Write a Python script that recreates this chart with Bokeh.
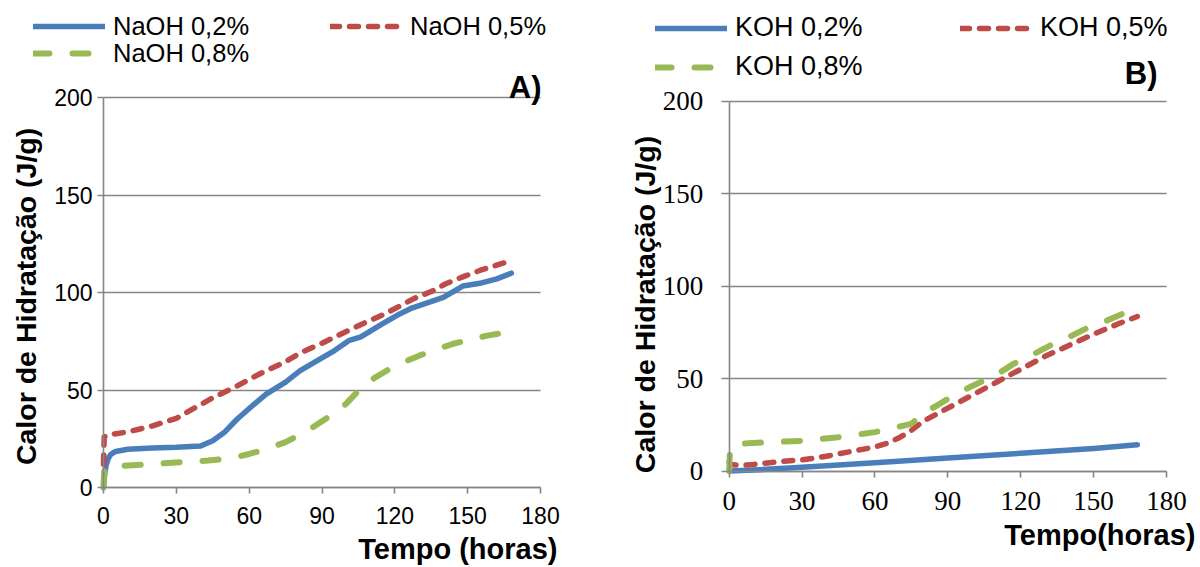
from bokeh.plotting import figure
from bokeh.layouts import row
from bokeh.models import Legend, LegendItem, Label, FixedTicker, Range1d
from bokeh.embed import file_html
from bokeh.resources import INLINE

# ---------------- Panel A (NaOH) ----------------
t_naoh_02 = [0, 0.5, 1, 2, 3, 5, 10, 20, 30, 40, 45, 50, 55, 60, 67, 75, 81, 90, 95, 101, 106, 115, 122, 127, 130, 140, 148, 155, 162, 168]
naoh_02 = [0, 7, 11, 15, 17, 18.5, 19.6, 20.2, 20.6, 21.3, 24, 28.5, 35, 40.5, 47.9, 54, 59.9, 66.5, 70.1, 75.3, 77.3, 84, 89, 92, 93.3, 97.5, 103.3, 104.7, 107, 109.9]

t_naoh_05 = [0, 0.3, 2, 10, 15, 20, 25, 30, 35, 40, 45, 50, 55, 60, 67, 75, 81, 90, 95, 100, 108, 115, 122, 128, 135, 141, 148, 155, 162, 168]
naoh_05 = [12, 26, 27, 28.5, 30, 31.5, 33.5, 35.5, 39, 42.5, 46, 49, 52, 55.5, 59.9, 64.5, 69, 74, 77, 80, 84.7, 88.5, 93, 97, 100.5, 104.5, 108, 111.3, 114, 116.4]

t_naoh_08 = [0, 0.3, 2, 10, 20, 30, 43, 50, 55, 60, 65, 70, 75, 80, 86, 90, 95, 100, 103, 107, 112, 118, 125, 130, 137, 144, 150, 158, 168]
naoh_08 = [0, 9, 10.5, 11.3, 12, 12.8, 13.8, 14.7, 15.7, 17.2, 19, 21, 23.3, 26.5, 30.7, 34, 38, 43, 47, 52.2, 56.5, 60.9, 65, 67.6, 70.8, 73.7, 75.5, 77.9, 80]

# ---------------- Panel B (KOH) ----------------
t_koh_02 = [0, 10, 30, 60, 90, 120, 150, 168]
koh_02 = [0, 0.5, 2, 4.5, 7, 9.6, 12.2, 14.2]

t_koh_05 = [0, 0.3, 5, 10, 20, 30, 40, 50, 60, 65, 70, 75, 80, 85, 90, 100, 110, 120, 130, 140, 150, 160, 168]
koh_05 = [5, 3.5, 3, 3.5, 5, 6, 8, 10.5, 13, 15, 18, 22, 27, 30.5, 34, 41, 48, 55, 62, 68, 74, 79.5, 83.5]

t_koh_08 = [0, 0.3, 2, 10, 30, 45, 60, 65, 70, 75, 78, 80, 85, 90, 95, 100, 105, 110, 117, 125, 132, 140, 147, 155, 162, 168]
koh_08 = [0, 11, 14.5, 15.2, 16.3, 18.3, 21, 22.5, 24, 25.5, 29, 31.5, 35, 39, 42.5, 46, 49, 52, 57.9, 63, 67.8, 72.5, 77, 81, 85, 87]

x_ticks = [0, 30, 60, 90, 120, 150, 180]
y_ticks = [0, 50, 100, 150, 200]

labels_a = ["NaOH 0,2%", "NaOH 0,5%", "NaOH 0,8%"]
labels_b = ["KOH 0,2%", "KOH 0,5%", "KOH 0,8%"]

BLUE = "#4A7EBB"
RED = "#BE4B48"
GREEN = "#98B954"
GRID = "#868686"
SANS = "Liberation Sans"
SERIF = "Liberation Serif"

W, H = 600, 567


def make_panel(series, labels, tag, cfg):
    # plot area (0..180 x 0..200) placed at pixel box (x0,x1,y_top,y_bot) of the canvas
    x0, x1, yt, yb = cfg["box"]
    kx = (x1 - x0) / 180.0
    ky = (yb - yt) / 200.0
    xr = Range1d(-x0 / kx, 180 + (W - x1) / kx)
    yr = Range1d(-(H - yb) / ky, 200 + yt / ky)
    p = figure(width=W, height=H, x_range=xr, y_range=yr,
               output_backend="svg", toolbar_location=None,
               min_border=0, min_border_left=0, min_border_right=0,
               min_border_top=0, min_border_bottom=0)
    p.outline_line_color = None
    p.background_fill_color = "white"
    p.border_fill_color = "white"

    p.xgrid.visible = False
    g = p.ygrid[0]
    g.ticker = FixedTicker(ticks=y_ticks)
    g.grid_line_color = GRID
    g.grid_line_width = 1.6
    if "cross_bounds" in g.properties():
        g.bounds = (0, 200)
        g.cross_bounds = (0, 180)
    else:
        g.visible = False
        p.segment(x0=[0] * len(y_ticks), x1=[180] * len(y_ticks), y0=y_ticks, y1=y_ticks,
                  line_color=GRID, line_width=1.6)

    p.xaxis.ticker = FixedTicker(ticks=x_ticks)
    p.yaxis.ticker = FixedTicker(ticks=y_ticks)
    p.xaxis.fixed_location = 0
    p.yaxis.fixed_location = 0
    p.xaxis.bounds = (0, 180)
    p.yaxis.bounds = (0, 200)
    for ax in (p.xaxis[0], p.yaxis[0]):
        ax.axis_line_color = GRID
        ax.axis_line_width = 1.6
        ax.major_tick_line_color = GRID
        ax.major_tick_line_width = 1.6
        ax.major_tick_in = 0
        ax.minor_tick_line_color = None
        ax.major_label_text_color = "black"
        ax.major_label_text_font = cfg["tick_font"]
        ax.major_label_text_font_size = cfg["tick_size"]
    p.xaxis.major_tick_out = 6
    p.yaxis.major_tick_out = cfg["ytick_out"]
    p.xaxis.major_label_standoff = cfg["xstand"]
    p.yaxis.major_label_standoff = cfg["ystand"]

    styles = [
        dict(color=BLUE, line_width=5.5, line_dash="solid"),
        dict(color=RED, line_width=5.5, line_dash="9 10"),
        dict(color=GREEN, line_width=6, line_dash="16 23"),
    ]
    renderers = []
    for (tx, yv), st in zip(series, styles):
        r = p.line(tx, yv, line_color=st["color"], line_width=st["line_width"],
                   line_dash=st["line_dash"], line_cap="round", line_join="round")
        renderers.append(r)

    for r, lab, loc in zip(renderers, labels, cfg["leg_locs"]):
        leg = Legend(items=[LegendItem(label=lab, renderers=[r])], location=loc,
                     orientation="vertical", padding=0, margin=0, spacing=0,
                     glyph_width=72, glyph_height=30, label_height=30,
                     label_standoff=8, label_text_font=SANS,
                     label_text_font_size=cfg["leg_size"], label_text_color="black",
                     label_text_baseline="middle",
                     background_fill_alpha=0, border_line_alpha=0)
        p.add_layout(leg)

    p.add_layout(Label(x=180, y=200, text=tag, text_align="right",
                       text_baseline="middle", x_offset=cfg["tag_dx"], y_offset=cfg["tag_dy"],
                       text_font=SANS, text_font_style="bold",
                       text_font_size="31px", text_color="black"))
    p.add_layout(Label(x=180, y=0, text=cfg["xtitle"], text_align="right",
                       text_baseline="middle", x_offset=cfg["xt_dx"], y_offset=cfg["xt_dy"],
                       text_font=SANS, text_font_style="bold",
                       text_font_size="29px", text_color="black"))
    p.add_layout(Label(x=0, y=cfg["yt_y"], text="Calor de Hidratação (J/g)", text_align="center",
                       text_baseline="middle", x_offset=cfg["yt_dx"], angle=90, angle_units="deg",
                       text_font=SANS, text_font_style="bold",
                       text_font_size="28.5px", text_color="black"))
    return p


cfg_a = dict(box=(103, 540, 97, 487),
             tick_font=SANS, tick_size="23px", ytick_out=6, xstand=13, ystand=5,
             leg_locs=[(33, 526), (330, 526), (33, 499)], leg_size="25.5px",
             tag_dx=1, tag_dy=10, xtitle="Tempo (horas)", xt_dx=17, xt_dy=-61,
             yt_y=98, yt_dx=-78)
cfg_b = dict(box=(128.7, 566, 100.5, 470.5),
             tick_font=SERIF, tick_size="27px", ytick_out=8, xstand=15, ystand=18,
             leg_locs=[(55, 524), (360, 524), (55, 485)], leg_size="27px",
             tag_dx=-9, tag_dy=28, xtitle="Tempo(horas)", xt_dx=29, xt_dy=-64,
             yt_y=90, yt_dx=-84)

pa = make_panel([(t_naoh_02, naoh_02), (t_naoh_05, naoh_05), (t_naoh_08, naoh_08)],
                labels_a, "A)", cfg_a)
pb = make_panel([(t_koh_02, koh_02), (t_koh_05, koh_05), (t_koh_08, koh_08)],
                labels_b, "B)", cfg_b)

layout = row(pa, pb, spacing=0)
open("out.html", "w").write(file_html(layout, INLINE))
